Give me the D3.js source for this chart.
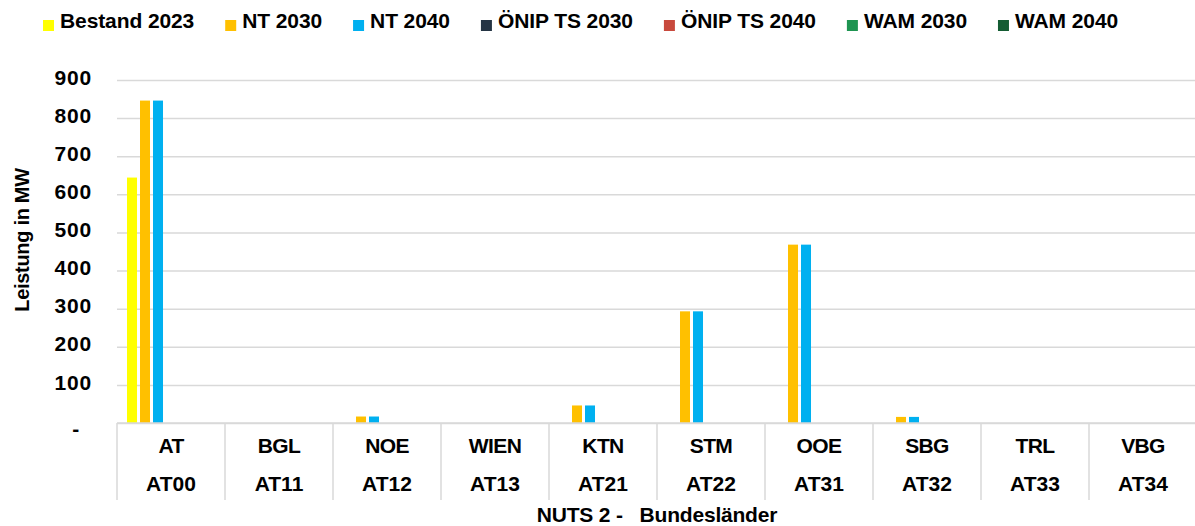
<!DOCTYPE html>
<html>
<head>
<meta charset="utf-8">
<script src="https://cdn.jsdelivr.net/npm/d3@7"></script>
<style>
  html, body { margin: 0; padding: 0; background: #fff; }
  svg { display: block; font-family: "Liberation Sans", Arial, sans-serif; font-weight: bold; }
</style>
</head>
<body>
<svg id="chart" width="1195" height="526"></svg>
<script>
// ---- Data ----
const categories = ["AT", "BGL", "NOE", "WIEN", "KTN", "STM", "OOE", "SBG", "TRL", "VBG"];
const nutsCodes  = ["AT00", "AT11", "AT12", "AT13", "AT21", "AT22", "AT31", "AT32", "AT33", "AT34"];
const seriesNames = ["Bestand 2023", "NT 2030", "NT 2040", "ÖNIP TS 2030", "ÖNIP TS 2040", "WAM 2030", "WAM 2040"];
const bestand2023 = [644, 0, 0, 0, 0, 0, 0, 0, 0, 0];
const nt2030      = [846, 0, 17, 0, 46, 293, 468, 16, 0, 0];
const nt2040      = [846, 0, 17, 0, 46, 293, 468, 16, 0, 0];
const onip2030    = [0, 0, 0, 0, 0, 0, 0, 0, 0, 0];
const onip2040    = [0, 0, 0, 0, 0, 0, 0, 0, 0, 0];
const wam2030     = [0, 0, 0, 0, 0, 0, 0, 0, 0, 0];
const wam2040     = [0, 0, 0, 0, 0, 0, 0, 0, 0, 0];
const yTicks = [0, 100, 200, 300, 400, 500, 600, 700, 800, 900];
const seriesColors = ["#FFFF00", "#FFC000", "#00B0F0", "#243444", "#C8493D", "#1E9451", "#145C33"];

const seriesValues = [bestand2023, nt2030, nt2040, onip2030, onip2040, wam2030, wam2040];

// ---- Layout ----
const svg = d3.select("#chart");
const plotLeft = 117, plotRight = 1197, plotTop = 80, plotBottom = 423;
const gridColor = "#d9d9d9";

const x = d3.scaleBand().domain(categories).range([plotLeft, plotRight]).padding(0);
const xs = d3.scaleBand().domain(seriesNames).range([0, x.bandwidth()])
  .paddingInner(0.23).paddingOuter(0.77);
const y = d3.scaleLinear().domain([0, 900]).range([plotBottom, plotTop]);

// Y axis with gridlines
const yAxis = d3.axisLeft(y).tickValues(yTicks)
  .tickSize(-(plotRight - plotLeft)).tickPadding(25)
  .tickFormat(d => d === 0 ? "-" : d3.format("d")(d));
const gy = svg.append("g").attr("transform", `translate(${plotLeft},0)`).call(yAxis);
gy.select(".domain").remove();
gy.selectAll(".tick line").attr("stroke", gridColor).attr("stroke-width", 1.5);
gy.selectAll(".tick text")
  .attr("fill", "#000").style("font-size", "21px").style("font-weight", "bold")
  .style("font-family", "'Liberation Sans', Arial, sans-serif")
  .style("letter-spacing", "0.8px")
  .attr("dx", d => d === 0 ? "-12px" : "0")
  .attr("dy", d => d === 0 ? "0.6em" : "0.2em");

// Bars
const barData = [];
seriesNames.forEach((s, si) => {
  categories.forEach((c, ci) => {
    const v = seriesValues[si][ci];
    if (v > 0) barData.push({ series: s, cat: c, value: v, color: seriesColors[si] });
  });
});
svg.append("g").selectAll("rect").data(barData).join("rect")
  .attr("x", d => x(d.cat) + xs(d.series))
  .attr("width", xs.bandwidth())
  .attr("y", d => y(d.value))
  .attr("height", d => y(0) - y(d.value))
  .attr("fill", d => d.color);

// Baseline redraw on top
svg.append("line")
  .attr("x1", plotLeft).attr("x2", plotRight)
  .attr("y1", y(0)).attr("y2", y(0))
  .attr("stroke", gridColor).attr("stroke-width", 1.5);

// Category dividers
const divX = categories.map(c => x(c));
svg.append("g").selectAll("line").data(divX).join("line")
  .attr("x1", d => d).attr("x2", d => d)
  .attr("y1", y(0)).attr("y2", 500)
  .attr("stroke", gridColor).attr("stroke-width", 1.5);

// Category labels (two rows)
const lab = svg.append("g").style("font-size", "21px").attr("text-anchor", "middle");
lab.selectAll("text.r1").data(categories).join("text").attr("class", "r1")
  .attr("x", d => x(d) + x.bandwidth() / 2).attr("y", 453)
  .style("letter-spacing", "-0.6px")
  .text(d => d);
lab.selectAll("text.r2").data(nutsCodes).join("text").attr("class", "r2")
  .attr("x", (d, i) => x(categories[i]) + x.bandwidth() / 2).attr("y", 491)
  .text(d => d);

// Axis titles
svg.append("text")
  .attr("x", (plotLeft + plotRight) / 2).attr("y", 522)
  .attr("text-anchor", "middle").style("font-size", "21px")
  .style("white-space", "pre").attr("xml:space", "preserve")
  .style("letter-spacing", "-0.2px")
  .text("NUTS 2 -   Bundesländer");

svg.append("text")
  .attr("transform", `translate(29,240) rotate(-90)`)
  .attr("text-anchor", "middle").style("font-size", "20px")
  .style("letter-spacing", "-0.3px")
  .text("Leistung in MW");

// Legend
const legend = svg.append("g");
let lx = 43;
seriesNames.forEach((s, i) => {
  const g = legend.append("g").attr("transform", `translate(${lx},0)`);
  g.append("rect").attr("x", 0).attr("y", 20).attr("width", 11).attr("height", 11)
    .attr("fill", seriesColors[i]);
  const t = g.append("text").attr("x", 17).attr("y", 28).style("font-size", "21px")
    .style("letter-spacing", "-0.1px").text(s);
  const w = t.node().getComputedTextLength();
  lx += 17 + w + 31;
});
</script>
</body>
</html>
